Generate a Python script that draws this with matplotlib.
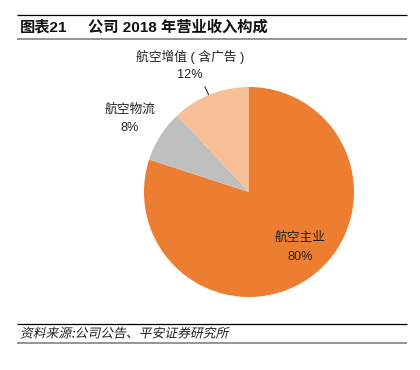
import matplotlib
matplotlib.use("Agg")
import matplotlib.pyplot as plt
from matplotlib.textpath import TextPath
from matplotlib.patches import PathPatch
from matplotlib.font_manager import FontProperties
from matplotlib.transforms import Affine2D

plt.rcParams['font.family'] = ['Liberation Sans', 'Noto Sans CJK SC', 'DejaVu Sans']

categories = ["航空主业", "航空物流", "航空增值 ( 含广告 )"]
values = [80, 8, 12]
colors = ["#ED7D31", "#BFBFBF", "#F8BF96"]
title_num = "图表21"
title_txt = "公司 2018 年营业收入构成"
source = "资料来源:公司公告、平安证券研究所"

W, H = 420, 370
fig = plt.figure(figsize=(W / 100, H / 100), dpi=100)

def fx(x): return x / W
def fy(y): return 1 - y / H

# pie
r = 105
cx, cy = 249, 192
ax = fig.add_axes([fx(cx - r), 1 - (cy + r) / H, 2 * r / W, 2 * r / H])
ax.pie(values, colors=colors, startangle=90, counterclock=False, radius=1,
       wedgeprops=dict(linewidth=0))
ax.set_xlim(-1, 1); ax.set_ylim(-1, 1)
ax.set_aspect("auto")
ax.axis("off")

# overlay for text and lines
ov = fig.add_axes([0, 0, 1, 1], facecolor="none")
ov.set_xlim(0, W); ov.set_ylim(H, 0); ov.axis("off")
ov.set_zorder(5)

for y, c, lw in [(15, "black", 0.9), (38.5, "#8C8C8C", 1.3), (324, "black", 0.9), (343, "#8C8C8C", 1.3)]:
    ov.plot([17, 407], [y, y], color=c, lw=lw, solid_capstyle="butt")

ov.text(20, 27, title_num, fontsize=11, fontweight="bold", va="center", ha="left", color="#111111")
ov.text(88, 27, title_txt, fontsize=11, fontweight="bold", va="center", ha="left", color="#111111")

# slanted source text
fp = FontProperties(family="Noto Sans CJK SC", size=12.8)
tp = TextPath((0, 0), source, prop=fp)
tr = Affine2D().skew_deg(12, 0).scale(1, -1).translate(20, 337.5)
ov.add_patch(PathPatch(tr.transform_path(tp), facecolor="#222222", edgecolor="none", lw=0))

lab_fs = 9.2
tc = "#222222"
ov.text(300, 238, categories[0], ha="center", va="center", fontsize=lab_fs, color=tc)
ov.text(300, 257, f"{values[0]}%", ha="center", va="center", fontsize=lab_fs, color=tc)
ov.text(130, 110, categories[1], ha="center", va="center", fontsize=lab_fs, color=tc)
ov.text(130, 128, f"{values[1]}%", ha="center", va="center", fontsize=lab_fs, color=tc)
ov.text(190, 57, categories[2], ha="center", va="center", fontsize=lab_fs, color=tc)
ov.text(190, 75, f"{values[2]}%", ha="center", va="center", fontsize=lab_fs, color=tc)
ov.plot([205, 208.5], [87, 94.5], color="#333333", lw=0.8)

fig.savefig("out.png", dpi=100)
